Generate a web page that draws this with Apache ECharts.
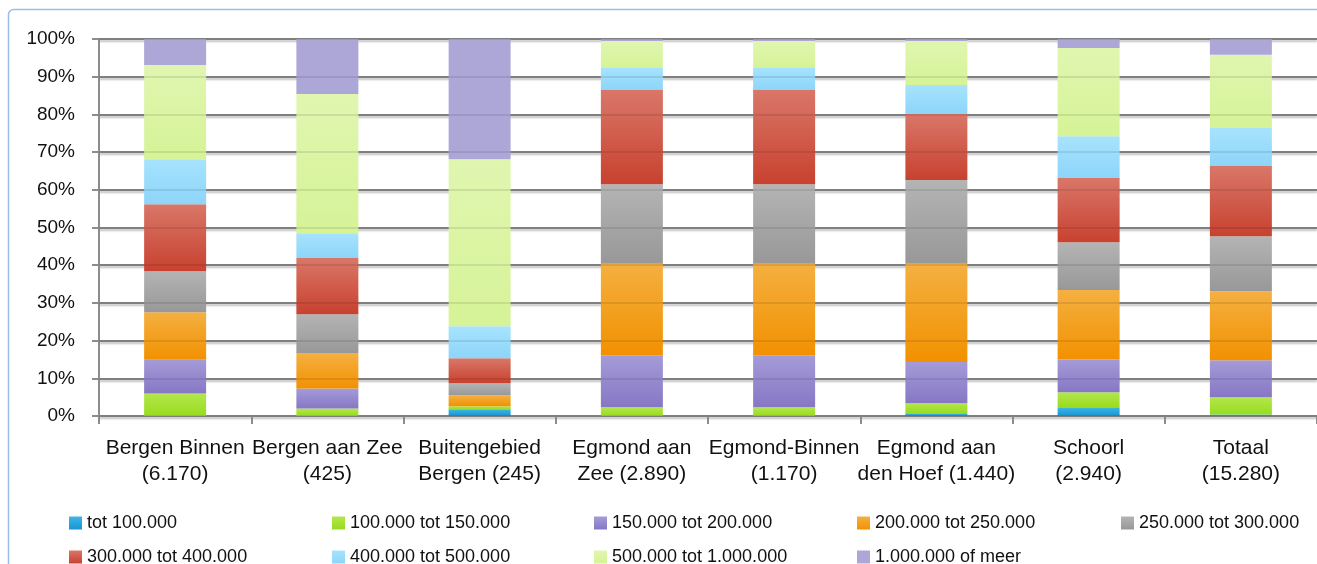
<!DOCTYPE html>
<html>
<head>
<meta charset="utf-8">
<script src="https://cdn.jsdelivr.net/npm/echarts@6/dist/echarts.min.js"></script>
<style>html,body{margin:0;padding:0;background:#fff}#c{width:1317px;height:564px}</style>
</head>
<body>
<div id="c"></div>
<script>
var categories = ['Bergen Binnen\n(6.170)', 'Bergen aan Zee\n(425)', 'Buitengebied\nBergen (245)', 'Egmond aan\nZee (2.890)', 'Egmond-Binnen\n(1.170)', 'Egmond aan\nden Hoef (1.440)', 'Schoorl\n(2.940)', 'Totaal\n(15.280)'];
var seriesNames = ['tot 100.000', '100.000 tot 150.000', '150.000 tot 200.000', '200.000 tot 250.000', '250.000 tot 300.000', '300.000 tot 400.000', '400.000 tot 500.000', '500.000 tot 1.000.000', '1.000.000 of meer'];
var tot100 = [0, 0, 1.8, 0, 0, 0.7, 2.3, 0.4];
var v100_150 = [6.0, 2.0, 0.8, 2.3, 2.3, 2.7, 4.0, 4.6];
var v150_200 = [8.9, 5.3, 0, 13.8, 13.8, 10.9, 8.7, 9.8];
var v200_250 = [12.6, 9.3, 2.9, 24.3, 24.3, 26.1, 18.4, 18.3];
var v250_300 = [10.9, 10.4, 3.2, 21.1, 21.1, 22.2, 12.7, 14.6];
var v300_400 = [17.8, 14.9, 6.6, 25.0, 25.0, 17.5, 17.0, 18.6];
var v400_500 = [11.9, 6.6, 8.5, 6.0, 6.0, 7.7, 11.1, 10.1];
var v500_1m = [25.0, 36.9, 44.3, 7.0, 7.0, 11.7, 23.4, 19.4];
var v1m = [6.9, 14.6, 31.9, 0.5, 0.5, 0.5, 2.4, 4.2];
var yTicks = [0, 10, 20, 30, 40, 50, 60, 70, 80, 90, 100];

var seriesData = [tot100, v100_150, v150_200, v200_250, v250_300, v300_400, v400_500, v500_1m, v1m];
var grads = [
  ['#40b4e6', '#1696d2'],
  ['#b3e64e', '#98dc1c'],
  ['#a59bd7', '#8677c5'],
  ['#f4b041', '#f29100'],
  ['#b4b4b4', '#989898'],
  ['#d97769', '#c8412f'],
  ['#a7e3fd', '#8dd5fa'],
  ['#e0f6b0', '#d6f397'],
  ['#ada7d7', '#ada7d7']
];
var FONT = "'Liberation Sans', Arial, sans-serif";

var series = seriesNames.map(function (n, i) {
  return {
    name: n,
    type: 'bar',
    stack: 'total',
    barWidth: 62,
    data: seriesData[i],
    itemStyle: {
      color: new echarts.graphic.LinearGradient(0, 0, 0, 1, [
        {offset: 0, color: grads[i][0]},
        {offset: 1, color: grads[i][1]}
      ])
    },
    emphasis: {disabled: true}
  };
});

var colX = [69, 332, 594, 857, 1121];
var rowY = [514, 548];
var legends = seriesNames.map(function (n, i) {
  return {
    data: [n],
    left: colX[i % 5],
    top: rowY[Math.floor(i / 5)],
    itemWidth: 13,
    itemHeight: 13,
    icon: 'rect',
    selectedMode: false,
    padding: 0,
    textStyle: {fontFamily: FONT, fontSize: 18, color: '#111', lineHeight: 13}
  };
});

var chart = echarts.init(document.getElementById('c'), null, {renderer: 'canvas'});
chart.setOption({
  animation: false,
  backgroundColor: '#fff',
  graphic: [{
    type: 'rect',
    shape: {x: 8.5, y: 9.5, width: 1400, height: 700, r: 5},
    style: {fill: 'none', stroke: '#9dbcea', lineWidth: 1.5},
    silent: true
  }],
  legend: legends,
  grid: {left: 99, top: 39, bottom: 148, width: 1227, containLabel: false},
  xAxis: {
    type: 'category',
    data: categories,
    axisLine: {lineStyle: {color: '#8c8c8c', width: 2}},
    axisTick: {show: true, length: 8, lineStyle: {color: '#8c8c8c', width: 2}},
    axisLabel: {interval: 0, fontFamily: FONT, fontSize: 21, lineHeight: 26, color: '#111', margin: 19}
  },
  yAxis: [{
    type: 'value',
    min: 0, max: 100, interval: 10,
    axisLine: {show: true, lineStyle: {color: '#8c8c8c', width: 2}},
    axisTick: {show: true, length: 7, lineStyle: {color: '#8c8c8c', width: 2}},
    splitLine: {lineStyle: {color: '#8c8c8c', width: 2, shadowColor: 'rgba(0,0,0,0.25)', shadowOffsetY: 2, shadowBlur: 2}},
    axisLabel: {formatter: '{value}%', fontFamily: FONT, fontSize: 19, color: '#111', margin: 24}
  }, {
    type: 'value',
    position: 'left',
    min: 0, max: 100, interval: 10,
    z: 5,
    axisLine: {show: false},
    axisTick: {show: false},
    axisLabel: {show: false},
    splitLine: {lineStyle: {color: 'rgba(0,0,0,0.09)', width: 2}}
  }],
  series: series
});
</script>
</body>
</html>
